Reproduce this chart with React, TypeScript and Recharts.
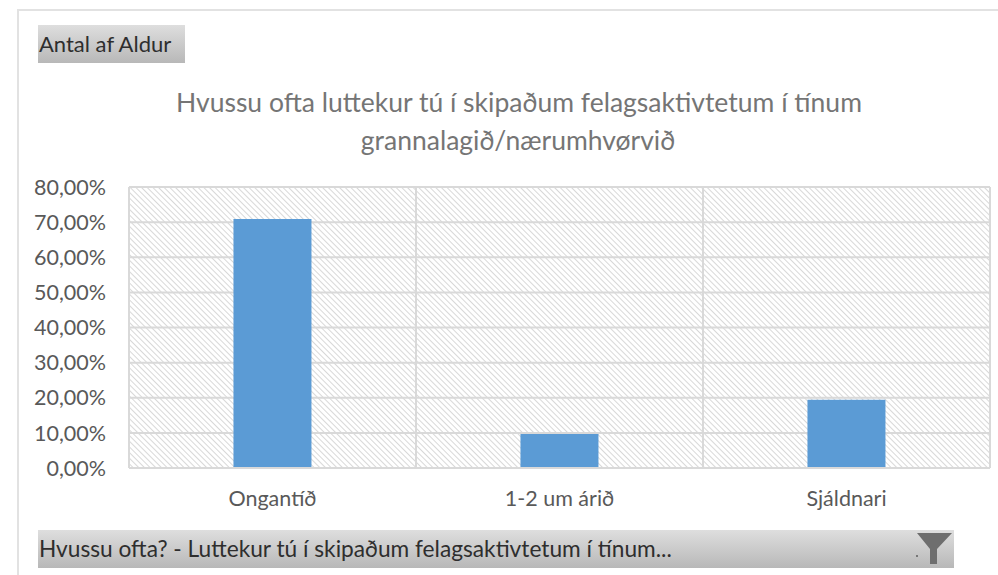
import React from 'react';
import { BarChart, Bar, XAxis, YAxis, CartesianGrid } from 'recharts';

const categories = ['Ongantíð', '1-2 um árið', 'Sjáldnari'];
const shares = [70.9, 9.7, 19.4];
const yTicks = [0, 10, 20, 30, 40, 50, 60, 70, 80];
const titleLines = [
    'Hvussu ofta luttekur tú í skipaðum felagsaktivtetum í tínum',
    'grannalagið/nærumhvørvið',
];

const chartData = categories.map((name, i) => ({ name, value: shares[i] }));
const FONT = 'Lato, "Open Sans", sans-serif';
const BUTTON_BG = 'linear-gradient(#dedede, #b8b8b8)';

const pctLabel = (v: number) => `${v.toFixed(2).replace('.', ',')}%`;

// grid lines sit between the categories, not on the ticks
const categoryEdges = ({ offset }: any) =>
    [0, 1, 2, 3].map((i) => offset.left + (i * offset.width) / categories.length);

const Button = ({ left, top, width, fontSize, children }: any) => (
    <div
        style={{
            position: 'absolute',
            left,
            top,
            width,
            height: 38,
            background: BUTTON_BG,
            color: '#2e2e2e',
            fontFamily: FONT,
            fontSize,
            lineHeight: '38px',
            paddingLeft: 1,
            boxSizing: 'border-box',
            whiteSpace: 'nowrap',
        }}
    >
        {children}
    </div>
);

export default function App() {
    return (
        <div style={{ position: 'absolute', left: 0, top: 0, width: 998, height: 575, background: '#fff', overflow: 'hidden' }}>
            <div style={{ position: 'absolute', left: 17, top: 9, width: 1100, height: 700, border: '2px solid #e2e2e2' }} />
            <BarChart
                width={998}
                height={575}
                data={chartData}
                margin={{ top: 187, right: 8, bottom: 0, left: 0 }}
                barCategoryGap="36.4%"
                style={{ position: 'absolute', left: 0, top: 0 }}
            >
                <defs>
                    <pattern id="hatch" width="4" height="4" patternUnits="userSpaceOnUse" patternTransform="rotate(45)">
                        <rect width="4" height="4" fill="#fff" />
                        <line x1="0" y1="0" x2="4" y2="0" stroke="#cfcfcf" strokeWidth="1.6" />
                    </pattern>
                </defs>
                <text x={519} y={112} textAnchor="middle" fontFamily={FONT} fontSize={26.5} fill="#757575">
                    {titleLines[0]}
                </text>
                <text x={518} y={150} textAnchor="middle" fontFamily={FONT} fontSize={26.5} fill="#757575">
                    {titleLines[1]}
                </text>
                <CartesianGrid
                    fill="url(#hatch)"
                    stroke="#d9d9d9"
                    strokeWidth={2}
                    verticalCoordinatesGenerator={categoryEdges}
                />
                <XAxis
                    dataKey="name"
                    axisLine={{ stroke: '#d9d9d9', strokeWidth: 2 }}
                    tickLine={false}
                    tickMargin={17}
                    height={107}
                    tick={{ fill: '#595959', fontFamily: FONT, fontSize: 21.5 }}
                />
                <YAxis
                    domain={[0, 80]}
                    ticks={yTicks}
                    tickFormatter={pctLabel}
                    axisLine={false}
                    tickLine={false}
                    width={129}
                    tickMargin={17}
                    interval={0}
                    tick={{ fill: '#595959', fontFamily: FONT, fontSize: 21.5 }}
                />
                <Bar dataKey="value" fill="#5b9bd5" isAnimationActive={false} />
            </BarChart>
            <Button left={38} top={25} width={147} fontSize={22}>Antal af Aldur</Button>
            <Button left={38} top={530} width={916} fontSize={22.7}>Hvussu ofta? - Luttekur tú í skipaðum felagsaktivtetum í tínum...</Button>
            <svg width={40} height={38} style={{ position: 'absolute', left: 914, top: 530 }}>
                <path d="M 3 3 L 38 3 L 23 19 L 23 34 L 16 34 L 16 19 Z" fill="#6e6e6e" />
                <rect x={2} y={25} width={2} height={2} fill="#777" />
            </svg>
        </div>
    );
}
